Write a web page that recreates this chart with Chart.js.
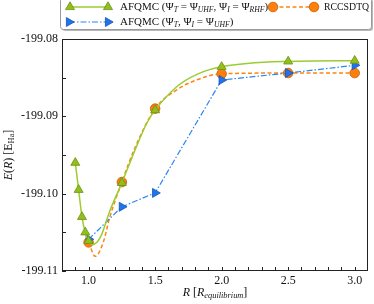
<!DOCTYPE html>
<html>
<head>
<meta charset="utf-8">
<script src="https://cdn.jsdelivr.net/npm/chart.js@4/dist/chart.umd.min.js"></script>
<style>
  html, body { margin: 0; padding: 0; background: #fff; }
  #wrap { width: 374px; height: 304px; position: relative; }
</style>
</head>
<body>
<div id="wrap"><canvas id="chart"></canvas></div>
<script>
// tick labels
const xTicks = [1.0, 1.5, 2.0, 2.5, 3.0];
const yTicks = [-199.08, -199.09, -199.10, -199.11];

// AFQMC (Psi_T = UHF, Psi_I = RHF) markers
const rGreen = [0.9, 0.925, 0.95, 0.975, 1.0, 1.25, 1.5, 2.0, 2.5, 3.0];
const eGreen = [-199.0960, -199.0995, -199.1030, -199.1050, -199.1061, -199.0986, -199.0892, -199.0836, -199.0829, -199.0828];
// smooth fit drawn through them
const rGreenFit = [0.9, 0.925, 0.95, 0.975, 1.0, 1.03, 1.09, 1.16, 1.25, 1.35, 1.44, 1.5, 1.66, 1.81, 2.0, 2.5, 3.0];
const eGreenFit = [-199.0960, -199.0995, -199.1030, -199.1050, -199.1061, -199.1066, -199.1056, -199.1022, -199.0986, -199.0943, -199.0908, -199.0892, -199.0862, -199.0846, -199.0836, -199.0829, -199.0828];

// RCCSDTQ
const rOrange = [1.0, 1.25, 1.5, 2.0, 2.5, 3.0];
const eOrange = [-199.1063, -199.0985, -199.0890, -199.0845, -199.0844, -199.0844];
const rOrangeFit = [1.0, 1.05, 1.11, 1.16, 1.25, 1.35, 1.5, 1.66, 1.81, 2.0, 2.5, 3.0];
const eOrangeFit = [-199.1063, -199.1081, -199.1063, -199.1030, -199.0985, -199.0940, -199.0890, -199.0866, -199.0853, -199.0845, -199.0844, -199.0844];

// AFQMC (Psi_T, Psi_I = UHF)
const rBlue = [1.0, 1.25, 1.5, 2.0, 2.5, 3.0];
const eBlue = [-199.1059, -199.1017, -199.0999, -199.0853, -199.0844, -199.0834];

const GREEN = "#9acd32", GREEN_FILL = "#92c01a", GREEN_EDGE = "#6d8f14";
const ORANGE = "#ff8410", ORANGE_FILL = "#ff7f0e", ORANGE_EDGE = "#c0600a";
const BLUE = "#2b86f0", BLUE_FILL = "#1f74ec", BLUE_EDGE = "#1656b0";
const FONT = "'Liberation Serif', 'Times New Roman', serif";

const pts = (xs, ys) => xs.map((x, i) => ({ x: x, y: ys[i] }));

// text with italic parts and subscripts
function richWidth(ctx, parts, size) {
  let w = 0;
  parts.forEach((p) => {
    const s = p.sub ? size * 0.7 : size;
    ctx.font = (p.it ? "italic " : "") + s + "px " + FONT;
    w += ctx.measureText(p.t).width;
  });
  return w;
}
function drawRich(ctx, x, y, parts, size) {
  ctx.textBaseline = "middle";
  ctx.textAlign = "left";
  parts.forEach((p) => {
    const s = p.sub ? size * 0.7 : size;
    ctx.font = (p.it ? "italic " : "") + s + "px " + FONT;
    ctx.fillText(p.t, x, p.sub ? y + size * 0.25 : y);
    x += ctx.measureText(p.t).width;
  });
  return x;
}

function tri(ctx, x, y, r, rot, fill, edge) {
  ctx.save();
  ctx.translate(x, y);
  ctx.rotate(rot * Math.PI / 180);
  ctx.beginPath();
  for (let k = 0; k < 3; k++) {
    const a = k * 2 * Math.PI / 3;
    const px = Math.sin(a) * r, py = -Math.cos(a) * r;
    k === 0 ? ctx.moveTo(px, py) : ctx.lineTo(px, py);
  }
  ctx.closePath();
  ctx.fillStyle = fill;
  ctx.fill();
  ctx.strokeStyle = edge;
  ctx.lineWidth = 0.8;
  ctx.stroke();
  ctx.restore();
}
function dot(ctx, x, y, r, fill, edge) {
  ctx.beginPath();
  ctx.arc(x, y, r, 0, Math.PI * 2);
  ctx.fillStyle = fill;
  ctx.fill();
  ctx.strokeStyle = edge;
  ctx.lineWidth = 0.8;
  ctx.stroke();
}
function seg(ctx, x1, x2, y, color, dash, w) {
  ctx.save();
  ctx.beginPath();
  ctx.setLineDash(dash);
  ctx.strokeStyle = color;
  ctx.lineWidth = w;
  ctx.moveTo(x1, y);
  ctx.lineTo(x2, y);
  ctx.stroke();
  ctx.restore();
}

// frame, inward ticks, axis titles and the legend box
const decor = {
  id: "decor",
  afterDatasetsDraw(chart) {
    const ctx = chart.ctx;
    const a = chart.chartArea;
    const xs = chart.scales.x, ys = chart.scales.y;
    ctx.save();
    ctx.strokeStyle = "#222";
    ctx.lineWidth = 1;
    ctx.strokeRect(a.left + 0.5, a.top + 0.5, a.right - a.left - 1, a.bottom - a.top - 1);
    ctx.beginPath();
    for (let v = 0.9; v <= 3.001; v += 0.1) {
      const px = Math.round(xs.getPixelForValue(v)) + 0.5;
      ctx.moveTo(px, a.bottom);
      ctx.lineTo(px, a.bottom - 4);
    }
    for (let v = -199.11; v <= -199.0799; v += 0.005) {
      const py = Math.round(ys.getPixelForValue(v)) + 0.5;
      ctx.moveTo(a.left, py);
      ctx.lineTo(a.left + 4, py);
    }
    ctx.stroke();
    ctx.restore();
  },
  afterDraw(chart) {
    const ctx = chart.ctx;
    const a = chart.chartArea;
    ctx.save();
    ctx.fillStyle = "#111";

    // x title
    const xt = [{ t: "R", it: true }, { t: " [" }, { t: "R", it: true }, { t: "equilibrium", it: true, sub: true }, { t: "]" }];
    const xw = richWidth(ctx, xt, 12);
    drawRich(ctx, (a.left + a.right) / 2 - xw / 2, 293, xt, 12);

    // y title
    const yt = [{ t: "E", it: true }, { t: "(" }, { t: "R", it: true }, { t: ")" }, { t: " [E" }, { t: "Ha", sub: true }, { t: "]" }];
    const yw = richWidth(ctx, yt, 12);
    ctx.save();
    ctx.translate(9, (a.top + a.bottom) / 2);
    ctx.rotate(-Math.PI / 2);
    drawRich(ctx, -yw / 2, 0, yt, 12);
    ctx.restore();

    // legend box
    const bx = 60, by = -3, bw = 311, bh = 32;
    ctx.fillStyle = "rgba(0,0,0,0.28)";
    ctx.beginPath();
    ctx.roundRect(bx + 2, by + 2, bw, bh, 3);
    ctx.fill();
    ctx.fillStyle = "#fff";
    ctx.strokeStyle = "#9a9a9a";
    ctx.lineWidth = 1;
    ctx.beginPath();
    ctx.roundRect(bx + 0.5, by + 0.5, bw, bh, 3);
    ctx.fill();
    ctx.stroke();

    const y1 = 7, y2 = 22;
    seg(ctx, 70, 108, y1, GREEN, [], 1.5);
    tri(ctx, 70, y1, 5.2, 0, GREEN_FILL, GREEN_EDGE);
    tri(ctx, 108, y1, 5.2, 0, GREEN_FILL, GREEN_EDGE);
    ctx.fillStyle = "#111";
    drawRich(ctx, 120, y1, [
      { t: "AFQMC (\u03A8" }, { t: "T", it: true, sub: true }, { t: " = \u03A8" }, { t: "UHF", it: true, sub: true },
      { t: ", \u03A8" }, { t: "I", it: true, sub: true }, { t: " = \u03A8" }, { t: "RHF", it: true, sub: true }, { t: ")" }
    ], 11);

    seg(ctx, 273, 314, y1, ORANGE, [4, 2.5], 1.5);
    dot(ctx, 273, y1, 4.8, ORANGE_FILL, ORANGE_EDGE);
    dot(ctx, 314, y1, 4.8, ORANGE_FILL, ORANGE_EDGE);
    ctx.fillStyle = "#111";
    drawRich(ctx, 324, y1, [{ t: "RCCSDTQ" }], 9.8);

    seg(ctx, 69, 108, y2, BLUE, [6, 2, 1.5, 2], 1.2);
    tri(ctx, 69, y2, 5.2, 90, BLUE_FILL, BLUE_EDGE);
    tri(ctx, 108, y2, 5.2, 90, BLUE_FILL, BLUE_EDGE);
    ctx.fillStyle = "#111";
    drawRich(ctx, 120, y2, [
      { t: "AFQMC (\u03A8" }, { t: "T", it: true, sub: true }, { t: ", \u03A8" }, { t: "I", it: true, sub: true },
      { t: " = \u03A8" }, { t: "UHF", it: true, sub: true }, { t: ")" }
    ], 11);
    ctx.restore();
  }
};

new Chart(document.getElementById("chart"), {
  type: "scatter",
  data: {
    datasets: [
      {
        label: "AFQMC fit",
        data: pts(rGreenFit, eGreenFit),
        showLine: true,
        borderColor: GREEN,
        borderWidth: 1.5,
        pointRadius: 0,
        cubicInterpolationMode: "monotone",
        order: 2
      },
      {
        label: "RCCSDTQ fit",
        data: pts(rOrangeFit, eOrangeFit),
        showLine: true,
        borderColor: ORANGE,
        borderWidth: 1.5,
        borderDash: [4, 2.5],
        pointRadius: 0,
        cubicInterpolationMode: "monotone",
        order: 6
      },
      {
        label: "AFQMC (UHF, UHF)",
        data: pts(rBlue, eBlue),
        showLine: true,
        borderColor: BLUE,
        borderWidth: 1.2,
        borderDash: [6, 2, 1.5, 2],
        pointStyle: "triangle",
        pointRotation: 90,
        pointRadius: 5.2,
        pointBackgroundColor: BLUE_FILL,
        pointBorderColor: BLUE_EDGE,
        pointBorderWidth: 0.8,
        order: 3
      },
      {
        label: "RCCSDTQ",
        data: pts(rOrange, eOrange),
        showLine: false,
        pointStyle: "circle",
        pointRadius: 4.8,
        pointBackgroundColor: ORANGE_FILL,
        pointBorderColor: ORANGE_EDGE,
        pointBorderWidth: 0.8,
        order: 5
      },
      {
        label: "AFQMC (UHF, RHF)",
        data: pts(rGreen, eGreen),
        showLine: false,
        pointStyle: "triangle",
        pointRadius: 5.2,
        pointBackgroundColor: GREEN_FILL,
        pointBorderColor: GREEN_EDGE,
        pointBorderWidth: 0.8,
        order: 1
      }
    ]
  },
  options: {
    responsive: true,
    maintainAspectRatio: false,
    animation: false,
    layout: { padding: { top: 39, right: 3, left: 0, bottom: 0 } },
    plugins: {
      legend: { display: false },
      tooltip: { enabled: false }
    },
    scales: {
      x: {
        type: "linear",
        min: 0.8,
        max: 3.1,
        grid: { display: false, drawTicks: false },
        border: { display: false },
        afterBuildTicks: (s) => { s.ticks = xTicks.map((v) => ({ value: v })); },
        afterFit: (s) => { s.height = 33; },
        ticks: {
          padding: 3,
          color: "#111",
          font: { family: FONT, size: 12 },
          callback: (v) => v.toFixed(1)
        }
      },
      y: {
        type: "linear",
        min: -199.11,
        max: -199.08,
        grid: { display: false, drawTicks: false },
        border: { display: false },
        afterBuildTicks: (s) => { s.ticks = yTicks.map((v) => ({ value: v })); },
        afterFit: (s) => { s.width = 62; },
        ticks: {
          padding: 4,
          color: "#111",
          font: { family: FONT, size: 12 },
          callback: (v) => v.toFixed(2)
        }
      }
    }
  },
  plugins: [decor]
});
</script>
</body>
</html>
